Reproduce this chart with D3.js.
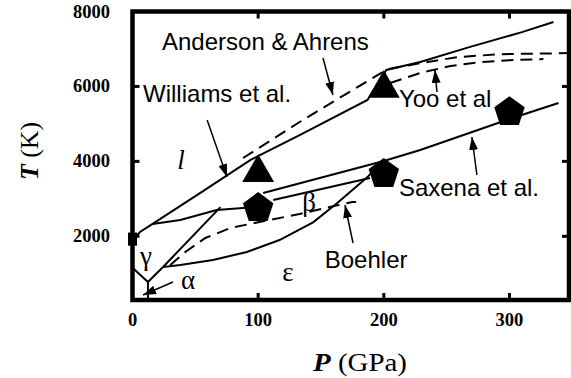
<!DOCTYPE html>
<html>
<head>
<meta charset="utf-8">
<script src="https://cdn.jsdelivr.net/npm/d3@7"></script>
<style>
  body { margin: 0; background: #fff; }
  .tick-label { font-family: "Liberation Serif", serif; font-weight: bold; font-size: 18.5px; }
  .note { font-family: "Liberation Sans", Arial, sans-serif; font-size: 24px; }
  .phase { font-family: "Liberation Serif", serif; font-size: 27px; }
</style>
</head>
<body>
<div id="chart"></div>
<script>

// axis ticks
var xTicks = [0, 100, 200, 300];
var yTicks = [2000, 4000, 6000, 8000];

// phase boundaries (P in GPa, T in K)
var meltCurve = [[0, 1900], [6, 2115], [16, 2330], [54, 3160], [94, 4040], [133, 4700], [187, 5640], [202, 6440], [229, 6650], [268, 7050], [310, 7450], [335, 7720]];
var andersonAhrens = [[88, 4090], [133, 5050], [165, 5700], [195, 6300], [203, 6460], [229, 6620], [258, 6780], [292, 6860], [348, 6890]];
var yooCurve = [[205, 6090], [229, 6360], [253, 6545], [277, 6650], [300, 6700], [327, 6730]];
var boehlerCurve = [[30, 1234], [42, 1580], [58, 1955], [78, 2222], [101, 2382], [133, 2595], [157, 2780], [175, 2916], [178, 2916]];
var gammaEps = [[12.3, 780], [24.3, 1181], [70, 2780]];
var epsLower = [[24.3, 1181], [38, 1234], [64, 1368], [91, 1581], [117, 1900], [144, 2380], [163, 2890], [187, 3580], [195, 3876]];
var alphaGamma = [[0, 1160], [12.3, 780]];
var alphaEps = [[12.3, 780], [12.3, 300]];
var saxenaLeft = [[16, 2330], [38, 2435], [67, 2700], [100, 2790]];
var betaUpper = [[104, 3156], [200, 4010]];
var betaLower = [[112, 2969], [189, 3556]];
var saxenaRight = [[200, 4010], [229, 4304], [268, 4757], [300, 5130], [339, 5558]];

// markers
var triangles = [[100, 3750], [200, 6000]];
var pentagons = [[100, 2780], [200, 3690], [300, 5340]];

// labels and arrows
var notes = [
  { text: "Anderson & Ahrens", P: 23.5, T: 6972 },
  { text: "Williams et al.", P: 8.4, T: 5585 },
  { text: "Yoo et al", P: 212, T: 5451 },
  { text: "Saxena et al.", P: 212, T: 3076 },
  { text: "Boehler", P: 153, T: 1154 }
];
var phases = [
  { text: "l", P: 38.6, T: 3983, italic: true },
  { text: "γ", P: 10.7, T: 1421 },
  { text: "α", P: 44.2, T: 780 },
  { text: "ε", P: 123.7, T: 994 },
  { text: "β", P: 140.5, T: 2862 }
];
var arrows = [
  [[59.4, 5104], [75.2, 3583]],
  [[151.6, 6759], [159.5, 5771]],
  [[242.3, 5852], [240.7, 6439]],
  [[274.1, 3636], [270.1, 4650]],
  [[175.5, 1821], [169.1, 2836]],
  [[32.2, 780], [8.4, 433]]
];

var width = 571, height = 378;

var svg = d3.select("#chart")
    .append("svg")
    .attr("width", width)
    .attr("height", height)

var x = d3.scaleLinear().domain([0, 350]).range([132.5, 572.3]),
    y = d3.scaleLinear().domain([300, 8000]).range([300, 11.5]);

var line = d3.line()
    .x(function (d) { return x(d[0]); })
    .y(function (d) { return y(d[1]); })

var plot = svg.append("g")

// solid boundaries
var solids = [meltCurve, gammaEps, epsLower, alphaGamma, alphaEps, saxenaLeft, betaUpper, betaLower, saxenaRight];
plot.selectAll(".solid")
    .data(solids)
    .enter()
    .append("path")
    .attr("class", "solid")
    .attr("d", line)
    .style("fill", "none")
    .style("stroke", "#000")
    .style("stroke-width", 2)

plot.selectAll(".dashed")
    .data([andersonAhrens, yooCurve, boehlerCurve])
    .enter()
    .append("path")
    .attr("class", "dashed")
    .attr("d", line)
    .style("fill", "none")
    .style("stroke", "#000")
    .style("stroke-width", 2)
    .style("stroke-dasharray", "12,7")

// small blob on the T axis
plot.append("path")
    .attr("d", line([[0, 1750], [0, 2100]]))
    .style("stroke", "#000")
    .style("stroke-width", 9)

// markers
plot.selectAll(".tri")
    .data(triangles)
    .enter()
    .append("path")
    .attr("class", "tri")
    .attr("d", d3.symbol().type(d3.symbolTriangle).size(440))
    .attr("transform", function (d) { return "translate(" + x(d[0]) + "," + (y(d[1]) + 2) + ")"; })
    .style("fill", "#000")

var pent = d3.range(5).map(function (i) {
  var a = -Math.PI / 2 + i * 2 * Math.PI / 5;
  return [16 * Math.cos(a), 16 * Math.sin(a)];
});
plot.selectAll(".pent")
    .data(pentagons)
    .enter()
    .append("path")
    .attr("class", "pent")
    .attr("d", "M" + pent.join("L") + "Z")
    .attr("transform", function (d) { return "translate(" + x(d[0]) + "," + (y(d[1]) + 1) + ")"; })
    .style("fill", "#000")

// arrows
svg.append("defs").append("marker")
    .attr("id", "head")
    .attr("viewBox", "0 0 13 9")
    .attr("refX", 13)
    .attr("refY", 4.5)
    .attr("markerWidth", 13)
    .attr("markerHeight", 9)
    .attr("markerUnits", "userSpaceOnUse")
    .attr("orient", "auto")
    .append("path")
    .attr("d", "M0,0L13,4.5L0,9Z")
    .style("fill", "#000")

plot.selectAll(".arrow")
    .data(arrows)
    .enter()
    .append("path")
    .attr("class", "arrow")
    .attr("d", line)
    .style("stroke", "#000")
    .style("stroke-width", 1.5)
    .attr("marker-end", "url(#head)")

// texts
plot.selectAll(".note")
    .data(notes)
    .enter()
    .append("text")
    .attr("class", "note")
    .attr("x", function (d) { return x(d.P); })
    .attr("y", function (d) { return y(d.T); })
    .text(function (d) { return d.text; })

plot.selectAll(".phase")
    .data(phases)
    .enter()
    .append("text")
    .attr("class", "phase")
    .attr("x", function (d) { return x(d.P); })
    .attr("y", function (d) { return y(d.T) + 7; })
    .style("text-anchor", "middle")
    .style("font-style", function (d) { return d.italic ? "italic" : "normal"; })
    .text(function (d) { return d.text; })

// frame
svg.append("rect")
    .attr("x", x(0))
    .attr("y", y(8000))
    .attr("width", 569 - x(0))
    .attr("height", y(300) - y(8000))
    .style("fill", "none")
    .style("stroke", "#000")
    .style("stroke-width", 4.5)

// inward ticks
svg.selectAll(".xt")
    .data(xTicks.slice(1))
    .enter()
    .append("g")
    .each(function (d) {
      var g = d3.select(this);
      g.append("line").attr("x1", x(d)).attr("x2", x(d)).attr("y1", y(300)).attr("y2", y(300) - 7);
      g.append("line").attr("x1", x(d)).attr("x2", x(d)).attr("y1", y(8000)).attr("y2", y(8000) + 7);
    })
    .selectAll("line")
    .style("stroke", "#000")
    .style("stroke-width", 3)

svg.selectAll(".yt")
    .data(yTicks.slice(0, 3))
    .enter()
    .append("g")
    .each(function (d) {
      var g = d3.select(this);
      g.append("line").attr("x1", x(0)).attr("x2", x(0) + 7).attr("y1", y(d)).attr("y2", y(d));
      g.append("line").attr("x1", 569).attr("x2", 562).attr("y1", y(d)).attr("y2", y(d));
    })
    .selectAll("line")
    .style("stroke", "#000")
    .style("stroke-width", 3)

// tick labels
svg.selectAll(".xl")
    .data(xTicks)
    .enter()
    .append("text")
    .attr("class", "tick-label")
    .attr("x", function (d) { return x(d); })
    .attr("y", 326)
    .style("text-anchor", "middle")
    .text(function (d) { return d; })

svg.selectAll(".yl")
    .data(yTicks)
    .enter()
    .append("text")
    .attr("class", "tick-label")
    .attr("x", 110)
    .attr("y", function (d) { return y(d) + 6; })
    .style("text-anchor", "end")
    .text(function (d) { return d; })

// axis titles
var xt = svg.append("text")
    .attr("x", 313)
    .attr("y", 371)
    .attr("textLength", 94)
    .attr("lengthAdjust", "spacingAndGlyphs")
    .style("font-family", "Liberation Serif, serif")
    .style("font-size", "25px")
xt.append("tspan").style("font-style", "italic").style("font-weight", "bold").text("P")
xt.append("tspan").text(" (GPa)")

var yt = svg.append("text")
    .attr("transform", "translate(38,180) rotate(-90)")
    .attr("textLength", 58)
    .attr("lengthAdjust", "spacingAndGlyphs")
    .style("font-family", "Liberation Serif, serif")
    .style("font-size", "25px")
yt.append("tspan").style("font-style", "italic").style("font-weight", "bold").text("T")
yt.append("tspan").text(" (K)")

</script>
</body>
</html>
